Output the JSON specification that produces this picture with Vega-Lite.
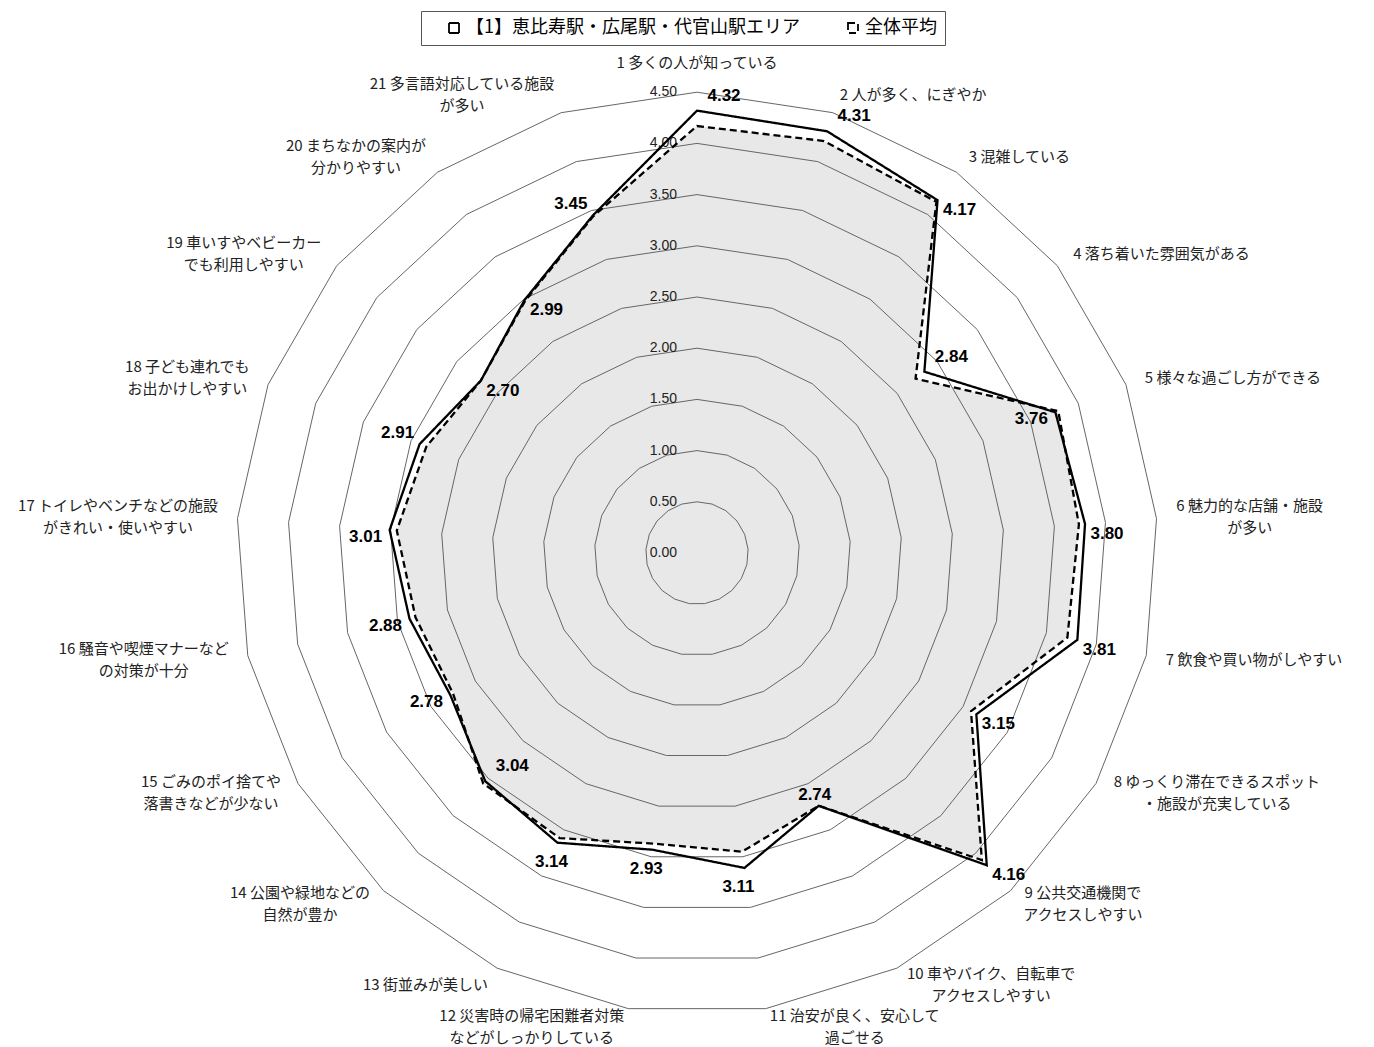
{
  "$schema": "https://vega.github.io/schema/vega-lite/v6.json",
  "width": 1374,
  "height": 1047,
  "padding": 0,
  "autosize": {"type": "none"},
  "background": "white",
  "config": {"view": {"stroke": null}},
  "datasets": {
    "items": [
      {"k": 1, "item": "1 多くの人が知っている", "area": 4.32, "avg": 4.17},
      {"k": 2, "item": "2 人が多く、にぎやか", "area": 4.31, "avg": 4.21},
      {"k": 3, "item": "3 混雑している", "area": 4.17, "avg": 4.15},
      {"k": 4, "item": "4 落ち着いた雰囲気がある", "area": 2.84, "avg": 2.73},
      {"k": 5, "item": "5 様々な過ごし方ができる", "area": 3.76, "avg": 3.79},
      {"k": 6, "item": "6 魅力的な店舗・施設\nが多い", "area": 3.80, "avg": 3.74},
      {"k": 7, "item": "7 飲食や買い物がしやすい", "area": 3.81, "avg": 3.71},
      {"k": 8, "item": "8 ゆっくり滞在できるスポット\n・施設が充実している", "area": 3.15, "avg": 3.09},
      {"k": 9, "item": "9 公共交通機関で\nアクセスしやすい", "area": 4.16, "avg": 4.09},
      {"k": 10, "item": "10 車やバイク、自転車で\nアクセスしやすい", "area": 2.74, "avg": 2.74},
      {"k": 11, "item": "11 治安が良く、安心して\n過ごせる", "area": 3.11, "avg": 2.95},
      {"k": 12, "item": "12 災害時の帰宅困難者対策\nなどがしっかりしている", "area": 2.93, "avg": 2.87},
      {"k": 13, "item": "13 街並みが美しい", "area": 3.14, "avg": 3.09},
      {"k": 14, "item": "14 公園や緑地などの\n自然が豊か", "area": 3.04, "avg": 3.07},
      {"k": 15, "item": "15 ごみのポイ捨てや\n落書きなどが少ない", "area": 2.78, "avg": 2.75},
      {"k": 16, "item": "16 騒音や喫煙マナーなど\nの対策が十分", "area": 2.88, "avg": 2.82},
      {"k": 17, "item": "17 トイレやベンチなどの施設\nがきれい・使いやすい", "area": 3.01, "avg": 2.94},
      {"k": 18, "item": "18 子ども連れでも\nお出かけしやすい", "area": 2.91, "avg": 2.84},
      {"k": 19, "item": "19 車いすやベビーカー\nでも利用しやすい", "area": 2.70, "avg": 2.70},
      {"k": 20, "item": "20 まちなかの案内が\n分かりやすい", "area": 2.99, "avg": 2.98},
      {"k": 21, "item": "21 多言語対応している施設\nが多い", "area": 3.45, "avg": 3.44}
    ],
    "rings": [
      {"ring": 0, "spokes": [1,2,3,4,5,6,7,8,9,10,11,12,13,14,15,16,17,18,19,20,21]},
      {"ring": 0.5, "spokes": [1,2,3,4,5,6,7,8,9,10,11,12,13,14,15,16,17,18,19,20,21]},
      {"ring": 1.0, "spokes": [1,2,3,4,5,6,7,8,9,10,11,12,13,14,15,16,17,18,19,20,21]},
      {"ring": 1.5, "spokes": [1,2,3,4,5,6,7,8,9,10,11,12,13,14,15,16,17,18,19,20,21]},
      {"ring": 2.0, "spokes": [1,2,3,4,5,6,7,8,9,10,11,12,13,14,15,16,17,18,19,20,21]},
      {"ring": 2.5, "spokes": [1,2,3,4,5,6,7,8,9,10,11,12,13,14,15,16,17,18,19,20,21]},
      {"ring": 3.0, "spokes": [1,2,3,4,5,6,7,8,9,10,11,12,13,14,15,16,17,18,19,20,21]},
      {"ring": 3.5, "spokes": [1,2,3,4,5,6,7,8,9,10,11,12,13,14,15,16,17,18,19,20,21]},
      {"ring": 4.0, "spokes": [1,2,3,4,5,6,7,8,9,10,11,12,13,14,15,16,17,18,19,20,21]},
      {"ring": 4.5, "spokes": [1,2,3,4,5,6,7,8,9,10,11,12,13,14,15,16,17,18,19,20,21]}
    ]
  },
  "encoding": {
    "x": {"field": "px", "type": "quantitative", "scale": {"domain": [-6.8066, 6.6113], "nice": false, "zero": false}, "axis": null},
    "y": {"field": "py", "type": "quantitative", "scale": {"domain": [-4.8242, 5.4004], "nice": false, "zero": false}, "axis": null}
  },
  "layer": [
    {
      "data": {"name": "items"},
      "transform": [
        {"calculate": "(datum.k-1)*2*PI/21", "as": "a"},
        {"calculate": "datum.avg*sin(datum.a)", "as": "px"},
        {"calculate": "datum.avg*cos(datum.a)", "as": "py"}
      ],
      "mark": {"type": "line", "interpolate": "linear-closed", "fill": "#e8e8e8", "stroke": "#e8e8e8", "strokeWidth": 0},
      "encoding": {"order": {"field": "k", "type": "quantitative"}}
    },
    {
      "data": {"name": "rings"},
      "transform": [
        {"filter": "datum.ring > 0"},
        {"flatten": ["spokes"], "as": ["k"]},
        {"calculate": "(datum.k-1)*2*PI/21", "as": "a"},
        {"calculate": "datum.ring*sin(datum.a)", "as": "px"},
        {"calculate": "datum.ring*cos(datum.a)", "as": "py"}
      ],
      "mark": {"type": "line", "interpolate": "linear-closed", "color": "#666666", "strokeWidth": 1},
      "encoding": {
        "detail": {"field": "ring", "type": "nominal"},
        "order": {"field": "k", "type": "quantitative"}
      }
    },
    {
      "data": {"name": "rings"},
      "transform": [
        {"calculate": "0", "as": "px"},
        {"calculate": "datum.ring", "as": "py"}
      ],
      "mark": {"type": "text", "align": "right", "baseline": "middle", "dx": -20, "font": "Liberation Sans", "fontSize": 14, "color": "#222222"},
      "encoding": {"text": {"field": "ring", "type": "quantitative", "format": ".2f"}}
    },
    {
      "data": {"name": "items"},
      "transform": [
        {"fold": ["avg", "area"], "as": ["s", "value"]},
        {"calculate": "datum.s == 'area' ? '【1】恵比寿駅・広尾駅・代官山駅エリア' : '全体平均'", "as": "series"},
        {"calculate": "(datum.k-1)*2*PI/21", "as": "a"},
        {"calculate": "datum.value*sin(datum.a)", "as": "px"},
        {"calculate": "datum.value*cos(datum.a)", "as": "py"}
      ],
      "mark": {"type": "line", "interpolate": "linear-closed", "color": "black", "strokeWidth": 2.3},
      "encoding": {
        "strokeDash": {
          "field": "series", "type": "nominal",
          "scale": {"domain": ["【1】恵比寿駅・広尾駅・代官山駅エリア", "全体平均"], "range": [[1, 0], [7, 4]]},
          "legend": {
            "orient": "none", "legendX": 421, "legendY": 11, "direction": "horizontal", "title": null,
            "symbolType": "square", "symbolSize": 100, "symbolStrokeWidth": 1.8, "symbolStrokeColor": "black", "symbolFillColor": "white",
            "labelFont": "Noto Sans CJK JP", "labelFontSize": 18, "labelColor": "black", "labelLimit": 600,
            "padding": 8, "strokeColor": "#555555", "fillColor": "white", "columnPadding": 28, "symbolOffset": 16, "labelOffset": 3
          }
        },
        "order": {"field": "k", "type": "quantitative"}
      }
    },
    {
      "data": {"name": "items"},
      "transform": [
        {"filter": {"field": "k", "oneOf": [1, 2, 4, 14]}},
        {"calculate": "(datum.k-1)*2*PI/21", "as": "a"},
        {"calculate": "datum.area*sin(datum.a)", "as": "px"},
        {"calculate": "datum.area*cos(datum.a)", "as": "py"}
      ],
      "mark": {"type": "text", "align": "center", "baseline": "middle", "dx": 27, "dy": -15, "font": "Liberation Sans", "fontWeight": "bold", "fontSize": 17, "color": "black"},
      "encoding": {"text": {"field": "area", "type": "quantitative", "format": ".2f"}}
    },
    {
      "data": {"name": "items"},
      "transform": [
        {"filter": {"field": "k", "oneOf": [3, 6, 7, 8, 9, 19, 20]}},
        {"calculate": "(datum.k-1)*2*PI/21", "as": "a"},
        {"calculate": "datum.area*sin(datum.a)", "as": "px"},
        {"calculate": "datum.area*cos(datum.a)", "as": "py"}
      ],
      "mark": {"type": "text", "align": "center", "baseline": "middle", "dx": 22, "dy": 10, "font": "Liberation Sans", "fontWeight": "bold", "fontSize": 17, "color": "black"},
      "encoding": {"text": {"field": "area", "type": "quantitative", "format": ".2f"}}
    },
    {
      "data": {"name": "items"},
      "transform": [
        {"filter": {"field": "k", "oneOf": [5, 15, 16, 17]}},
        {"calculate": "(datum.k-1)*2*PI/21", "as": "a"},
        {"calculate": "datum.area*sin(datum.a)", "as": "px"},
        {"calculate": "datum.area*cos(datum.a)", "as": "py"}
      ],
      "mark": {"type": "text", "align": "center", "baseline": "middle", "dx": -24, "dy": 7, "font": "Liberation Sans", "fontWeight": "bold", "fontSize": 17, "color": "black"},
      "encoding": {"text": {"field": "area", "type": "quantitative", "format": ".2f"}}
    },
    {
      "data": {"name": "items"},
      "transform": [
        {"filter": {"field": "k", "oneOf": [18, 21]}},
        {"calculate": "(datum.k-1)*2*PI/21", "as": "a"},
        {"calculate": "datum.area*sin(datum.a)", "as": "px"},
        {"calculate": "datum.area*cos(datum.a)", "as": "py"}
      ],
      "mark": {"type": "text", "align": "center", "baseline": "middle", "dx": -22, "dy": -11, "font": "Liberation Sans", "fontWeight": "bold", "fontSize": 17, "color": "black"},
      "encoding": {"text": {"field": "area", "type": "quantitative", "format": ".2f"}}
    },
    {
      "data": {"name": "items"},
      "transform": [
        {"filter": {"field": "k", "oneOf": [11, 12, 13]}},
        {"calculate": "(datum.k-1)*2*PI/21", "as": "a"},
        {"calculate": "datum.area*sin(datum.a)", "as": "px"},
        {"calculate": "datum.area*cos(datum.a)", "as": "py"}
      ],
      "mark": {"type": "text", "align": "center", "baseline": "middle", "dx": -6, "dy": 19, "font": "Liberation Sans", "fontWeight": "bold", "fontSize": 17, "color": "black"},
      "encoding": {"text": {"field": "area", "type": "quantitative", "format": ".2f"}}
    },
    {
      "data": {"name": "items"},
      "transform": [
        {"filter": {"field": "k", "oneOf": [10]}},
        {"calculate": "(datum.k-1)*2*PI/21", "as": "a"},
        {"calculate": "datum.area*sin(datum.a)", "as": "px"},
        {"calculate": "datum.area*cos(datum.a)", "as": "py"}
      ],
      "mark": {"type": "text", "align": "center", "baseline": "middle", "dx": -4, "dy": -11, "font": "Liberation Sans", "fontWeight": "bold", "fontSize": 17, "color": "black"},
      "encoding": {"text": {"field": "area", "type": "quantitative", "format": ".2f"}}
    },
    {
      "data": {"name": "items"},
      "transform": [
        {"calculate": "(datum.k-1)*2*PI/21", "as": "a"},
        {"calculate": "indexof(datum.item, '\\n') < 0 ? datum.item : substring(datum.item, 0, indexof(datum.item, '\\n'))", "as": "l1"},
        {"calculate": "indexof(datum.item, '\\n') < 0 ? '' : substring(datum.item, indexof(datum.item, '\\n') + 1)", "as": "l2"},
        {"calculate": "length(replace(datum.l1, regexp('[ -~]', 'g'), ''))", "as": "n1"},
        {"calculate": "length(replace(datum.l2, regexp('[ -~]', 'g'), ''))", "as": "n2"},
        {"calculate": "max(15*datum.n1 + 7.5*(length(datum.l1) - datum.n1), 15*datum.n2 + 7.5*(length(datum.l2) - datum.n2)) / 2 / 102.4", "as": "hw"},
        {"calculate": "datum.k == 1 ? 0 : (datum.k <= 11 ? 4.678*sin(datum.a) + datum.hw : 4.678*sin(datum.a) - datum.hw)", "as": "px"},
        {"calculate": "4.678*cos(datum.a) + (datum.k == 1 ? 0.11 : 0) + (datum.l2 == '' ? 0 : 0.107)", "as": "py"}
      ],
      "mark": {"type": "text", "align": "center", "baseline": "middle", "lineBreak": "\n", "lineHeight": 22, "font": "Noto Sans CJK JP", "fontSize": 15, "color": "#222222"},
      "encoding": {"text": {"field": "item", "type": "nominal"}}
    }
  ]
}
